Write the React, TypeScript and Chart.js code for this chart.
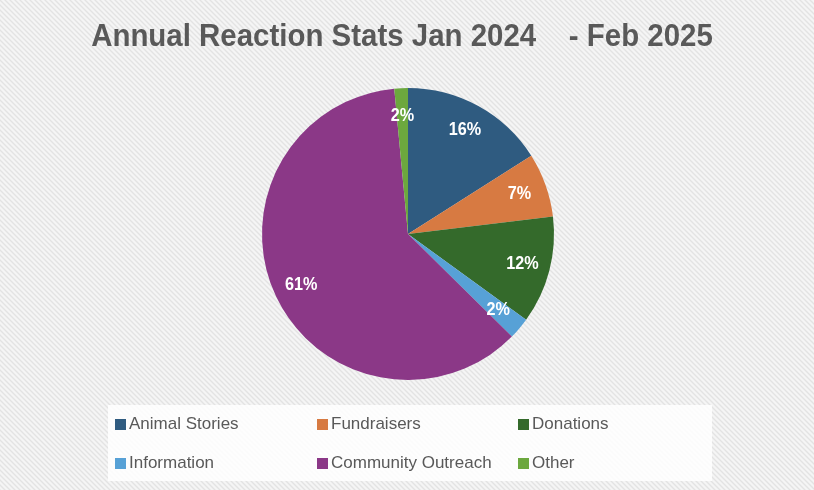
import React, { useEffect, useRef } from "react";
import { Chart, registerables } from "chart.js";

Chart.register(...registerables);

const categories = ["Animal Stories", "Fundraisers", "Donations", "Information", "Community Outreach", "Other"];
const shares = [16.0, 7.1, 11.9, 2.4, 61.1, 1.5];
const sliceColors = ["#2F5B80", "#D77A42", "#346A2B", "#57A1D6", "#8B3887", "#6CA83E"];
const titleText = "Annual Reaction Stats Jan 2024    - Feb 2025";

const FONT = "'Liberation Sans Narrow', 'Arial Narrow', 'Liberation Sans', Arial, sans-serif";

const bgPlugin = {
  id: "bgStripes",
  beforeDraw(chart: any) {
    const { ctx, width, height } = chart;
    const p = document.createElement("canvas");
    p.width = 5;
    p.height = 5;
    const pc = p.getContext("2d")!;
    pc.fillStyle = "#f5f5f5";
    pc.fillRect(0, 0, 5, 5);
    pc.strokeStyle = "#e3e3e3";
    pc.lineWidth = 1.4;
    pc.beginPath();
    for (let k = -1; k <= 1; k++) {
      pc.moveTo(k * 5 - 1, -1);
      pc.lineTo(k * 5 + 6, 6);
    }
    pc.stroke();
    ctx.save();
    ctx.fillStyle = ctx.createPattern(p, "repeat");
    ctx.fillRect(0, 0, width, height);
    ctx.restore();
  },
};

const titlePlugin = {
  id: "narrowTitle",
  afterDraw(chart: any) {
    const { ctx } = chart;
    ctx.save();
    ctx.translate(402, 37);
    ctx.scale(0.92, 1);
    ctx.font = `bold 32px ${FONT}`;
    ctx.fillStyle = "#595959";
    ctx.textAlign = "center";
    ctx.textBaseline = "middle";
    ctx.fillText(titleText, 0, 0);
    ctx.restore();
  },
};

const legendPlugin = {
  id: "gridLegend",
  afterDraw(chart: any) {
    const { ctx } = chart;
    const labels = chart.data.labels as string[];
    const colors = chart.data.datasets[0].backgroundColor as string[];
    const colX = [115, 317, 518];
    const rowY = [424, 463];
    ctx.save();
    ctx.fillStyle = "rgba(255,255,255,0.85)";
    ctx.fillRect(108, 405, 604, 76);
    ctx.font = `17px ${FONT}`;
    ctx.textBaseline = "middle";
    labels.forEach((lab, i) => {
      const x = colX[i % 3];
      const y = rowY[Math.floor(i / 3)];
      ctx.fillStyle = colors[i];
      ctx.fillRect(x, y - 5, 11, 11);
      ctx.fillStyle = "#595959";
      ctx.fillText(lab, x + 14, y);
    });
    ctx.restore();
  },
};

const sliceLabelPlugin = {
  id: "sliceLabels",
  afterDatasetsDraw(chart: any) {
    const { ctx } = chart;
    const meta = chart.getDatasetMeta(0);
    const data = chart.data.datasets[0].data as number[];
    const total = data.reduce((a, b) => a + b, 0);
    meta.data.forEach((arc: any, i: number) => {
      const { x, y, startAngle, endAngle, outerRadius } = arc.getProps(["x", "y", "startAngle", "endAngle", "outerRadius"], true);
      const mid = (startAngle + endAngle) / 2;
      const r = outerRadius * 0.81;
      const pct = Math.round((data[i] / total) * 100);
      ctx.save();
      ctx.translate(x + Math.cos(mid) * r, y + Math.sin(mid) * r);
      ctx.scale(0.9, 1);
      ctx.font = `bold 18px ${FONT}`;
      ctx.fillStyle = "#ffffff";
      ctx.textAlign = "center";
      ctx.textBaseline = "middle";
      ctx.fillText(`${pct}%`, 0, 0);
      ctx.restore();
    });
  },
};

export default function App() {
  const ref = useRef<HTMLCanvasElement>(null);
  useEffect(() => {
    const chart = new Chart(ref.current!, {
      type: "pie",
      data: {
        labels: categories,
        datasets: [
          {
            data: shares,
            backgroundColor: sliceColors,
            borderWidth: 0,
          },
        ],
      },
      options: {
        animation: false,
        responsive: false,
        layout: { padding: { top: 88, bottom: 110, left: 2 } },
        plugins: {
          legend: { display: false },
          tooltip: { enabled: false },
          title: { display: false },
        },
      },
      plugins: [bgPlugin, sliceLabelPlugin, legendPlugin, titlePlugin],
    });
    return () => chart.destroy();
  }, []);
  return (
    <div style={{ position: "fixed", left: 0, top: 0, width: 814, height: 490 }}>
      <canvas ref={ref} width={814} height={490} style={{ width: 814, height: 490 }} />
    </div>
  );
}
